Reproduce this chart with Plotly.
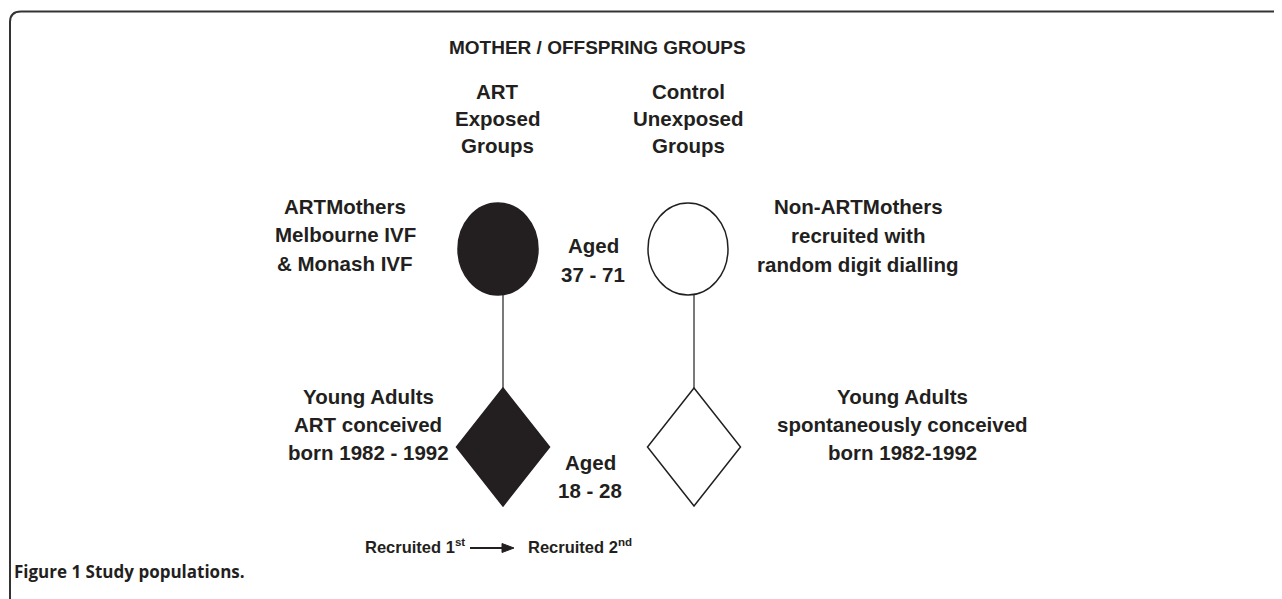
import plotly.graph_objects as go

# ---------------- data (text content) ----------------
title_text = "MOTHER / OFFSPRING GROUPS"
group_headers = [["ART", "Exposed", "Groups"], ["Control", "Unexposed", "Groups"]]
mother_labels = [["ARTMothers", "Melbourne IVF", "& Monash IVF"],
                 ["Non-ARTMothers", "recruited with", "random digit dialling"]]
offspring_labels = [["Young Adults", "ART conceived", "born 1982 - 1992"],
                    ["Young Adults", "spontaneously conceived", "born 1982-1992"]]
mother_age = ["Aged", "37 - 71"]
offspring_age = ["Aged", "18 - 28"]
recruit_labels = ["Recruited 1<sup>st</sup>", "Recruited 2<sup>nd</sup>"]
caption_bold = "Figure 1"
caption_rest = "Study populations."
group_filled = [True, False]

# ---------------- layout geometry (screen pixel coordinates) ----------------
W, H = 1282, 599
OFF = 8                      # page body margin of the html page
INK = "#231f20"
FONT = "Liberation Sans, Arial, sans-serif"
col_x = [498, 688]           # ellipse centres
stem_x = [503, 694]          # stems / diamonds
ell_rx, ell_top, ell_bot = 40, 203, 295
dia_hw, dia_top, dia_bot = 46.5, 388, 506
BODY = 20.5

fig = go.Figure()
shapes = []
annotations = []


def add_lines(lines, cx, y0, ls=28.5, size=BODY, color=INK):
    for i, t in enumerate(lines):
        annotations.append(dict(
            x=cx, y=y0 + i * ls, xref="x", yref="y", text=t, showarrow=False,
            xanchor="center", yanchor="middle",
            font=dict(family=FONT, size=size, color=color, weight="bold")))


# frame (open right and bottom, rounded top-left corner)
shapes.append(dict(type="path", xref="x", yref="y",
                   path="M 10,600 L 10,22 Q 10,11.5 21,11.5 L 1300,11.5",
                   line=dict(color="#333333", width=2)))

for k in range(2):
    fill = INK if group_filled[k] else "white"
    shapes.append(dict(type="line", xref="x", yref="y",
                       x0=stem_x[k], x1=stem_x[k], y0=ell_bot - 2, y1=dia_top + 2,
                       line=dict(color=INK, width=1.2), layer="below"))
    shapes.append(dict(type="circle", xref="x", yref="y",
                       x0=col_x[k] - ell_rx, x1=col_x[k] + ell_rx, y0=ell_top, y1=ell_bot,
                       fillcolor=fill, line=dict(color=INK, width=1.5), layer="above"))
    cx = stem_x[k]
    cy = (dia_top + dia_bot) / 2
    path = (f"M {cx},{dia_top} L {cx + dia_hw},{cy} L {cx},{dia_bot} "
            f"L {cx - dia_hw},{cy} Z")
    shapes.append(dict(type="path", xref="x", yref="y", path=path,
                       fillcolor=fill, line=dict(color=INK, width=1.5), layer="above"))

# title
annotations.append(dict(x=597, y=47, xref="x", yref="y", text=title_text, showarrow=False,
                        xanchor="center", yanchor="middle",
                        font=dict(family=FONT, size=19, color=INK, weight="bold")))

add_lines(group_headers[0], 497, 91, ls=27)
add_lines(group_headers[1], 688, 91, ls=27)
add_lines(mother_labels[0], 345, 206, ls=28.5)
add_lines(mother_labels[1], 858, 206, ls=29)
add_lines(mother_age, 593, 245, ls=29)
add_lines(offspring_labels[0], 368, 396, ls=28)
add_lines(offspring_labels[1], 902, 396, ls=28)
add_lines(offspring_age, 590, 462, ls=28)

# recruitment order
annotations.append(dict(x=415, y=546, xref="x", yref="y", text=recruit_labels[0], showarrow=False,
                        xanchor="center", yanchor="middle",
                        font=dict(family=FONT, size=16.5, color=INK, weight="bold")))
annotations.append(dict(x=580, y=546, xref="x", yref="y", text=recruit_labels[1], showarrow=False,
                        xanchor="center", yanchor="middle",
                        font=dict(family=FONT, size=16.5, color=INK, weight="bold")))
shapes.append(dict(type="line", xref="x", yref="y", x0=470, x1=505, y0=548, y1=548,
                   line=dict(color=INK, width=2)))
shapes.append(dict(type="path", xref="x", yref="y", path="M 502,543.5 L 514,548 L 502,552.5 Z",
                   fillcolor=INK, line=dict(color=INK, width=1)))

# caption
annotations.append(dict(x=12, y=571, xref="x", yref="y",
                        text=f"<b>{caption_bold}</b> {caption_rest}", showarrow=False,
                        xanchor="left", yanchor="middle",
                        font=dict(family="Open Sans, sans-serif", size=17, color=INK, weight="bold")))

fig.update_layout(
    width=W, height=H, margin=dict(l=0, r=0, t=0, b=0),
    paper_bgcolor="white", plot_bgcolor="white",
    xaxis=dict(range=[OFF, W + OFF], visible=False, fixedrange=True),
    yaxis=dict(range=[H + OFF, OFF], visible=False, fixedrange=True),
    shapes=shapes, annotations=annotations, showlegend=False,
)
fig.write_html("out.html")
